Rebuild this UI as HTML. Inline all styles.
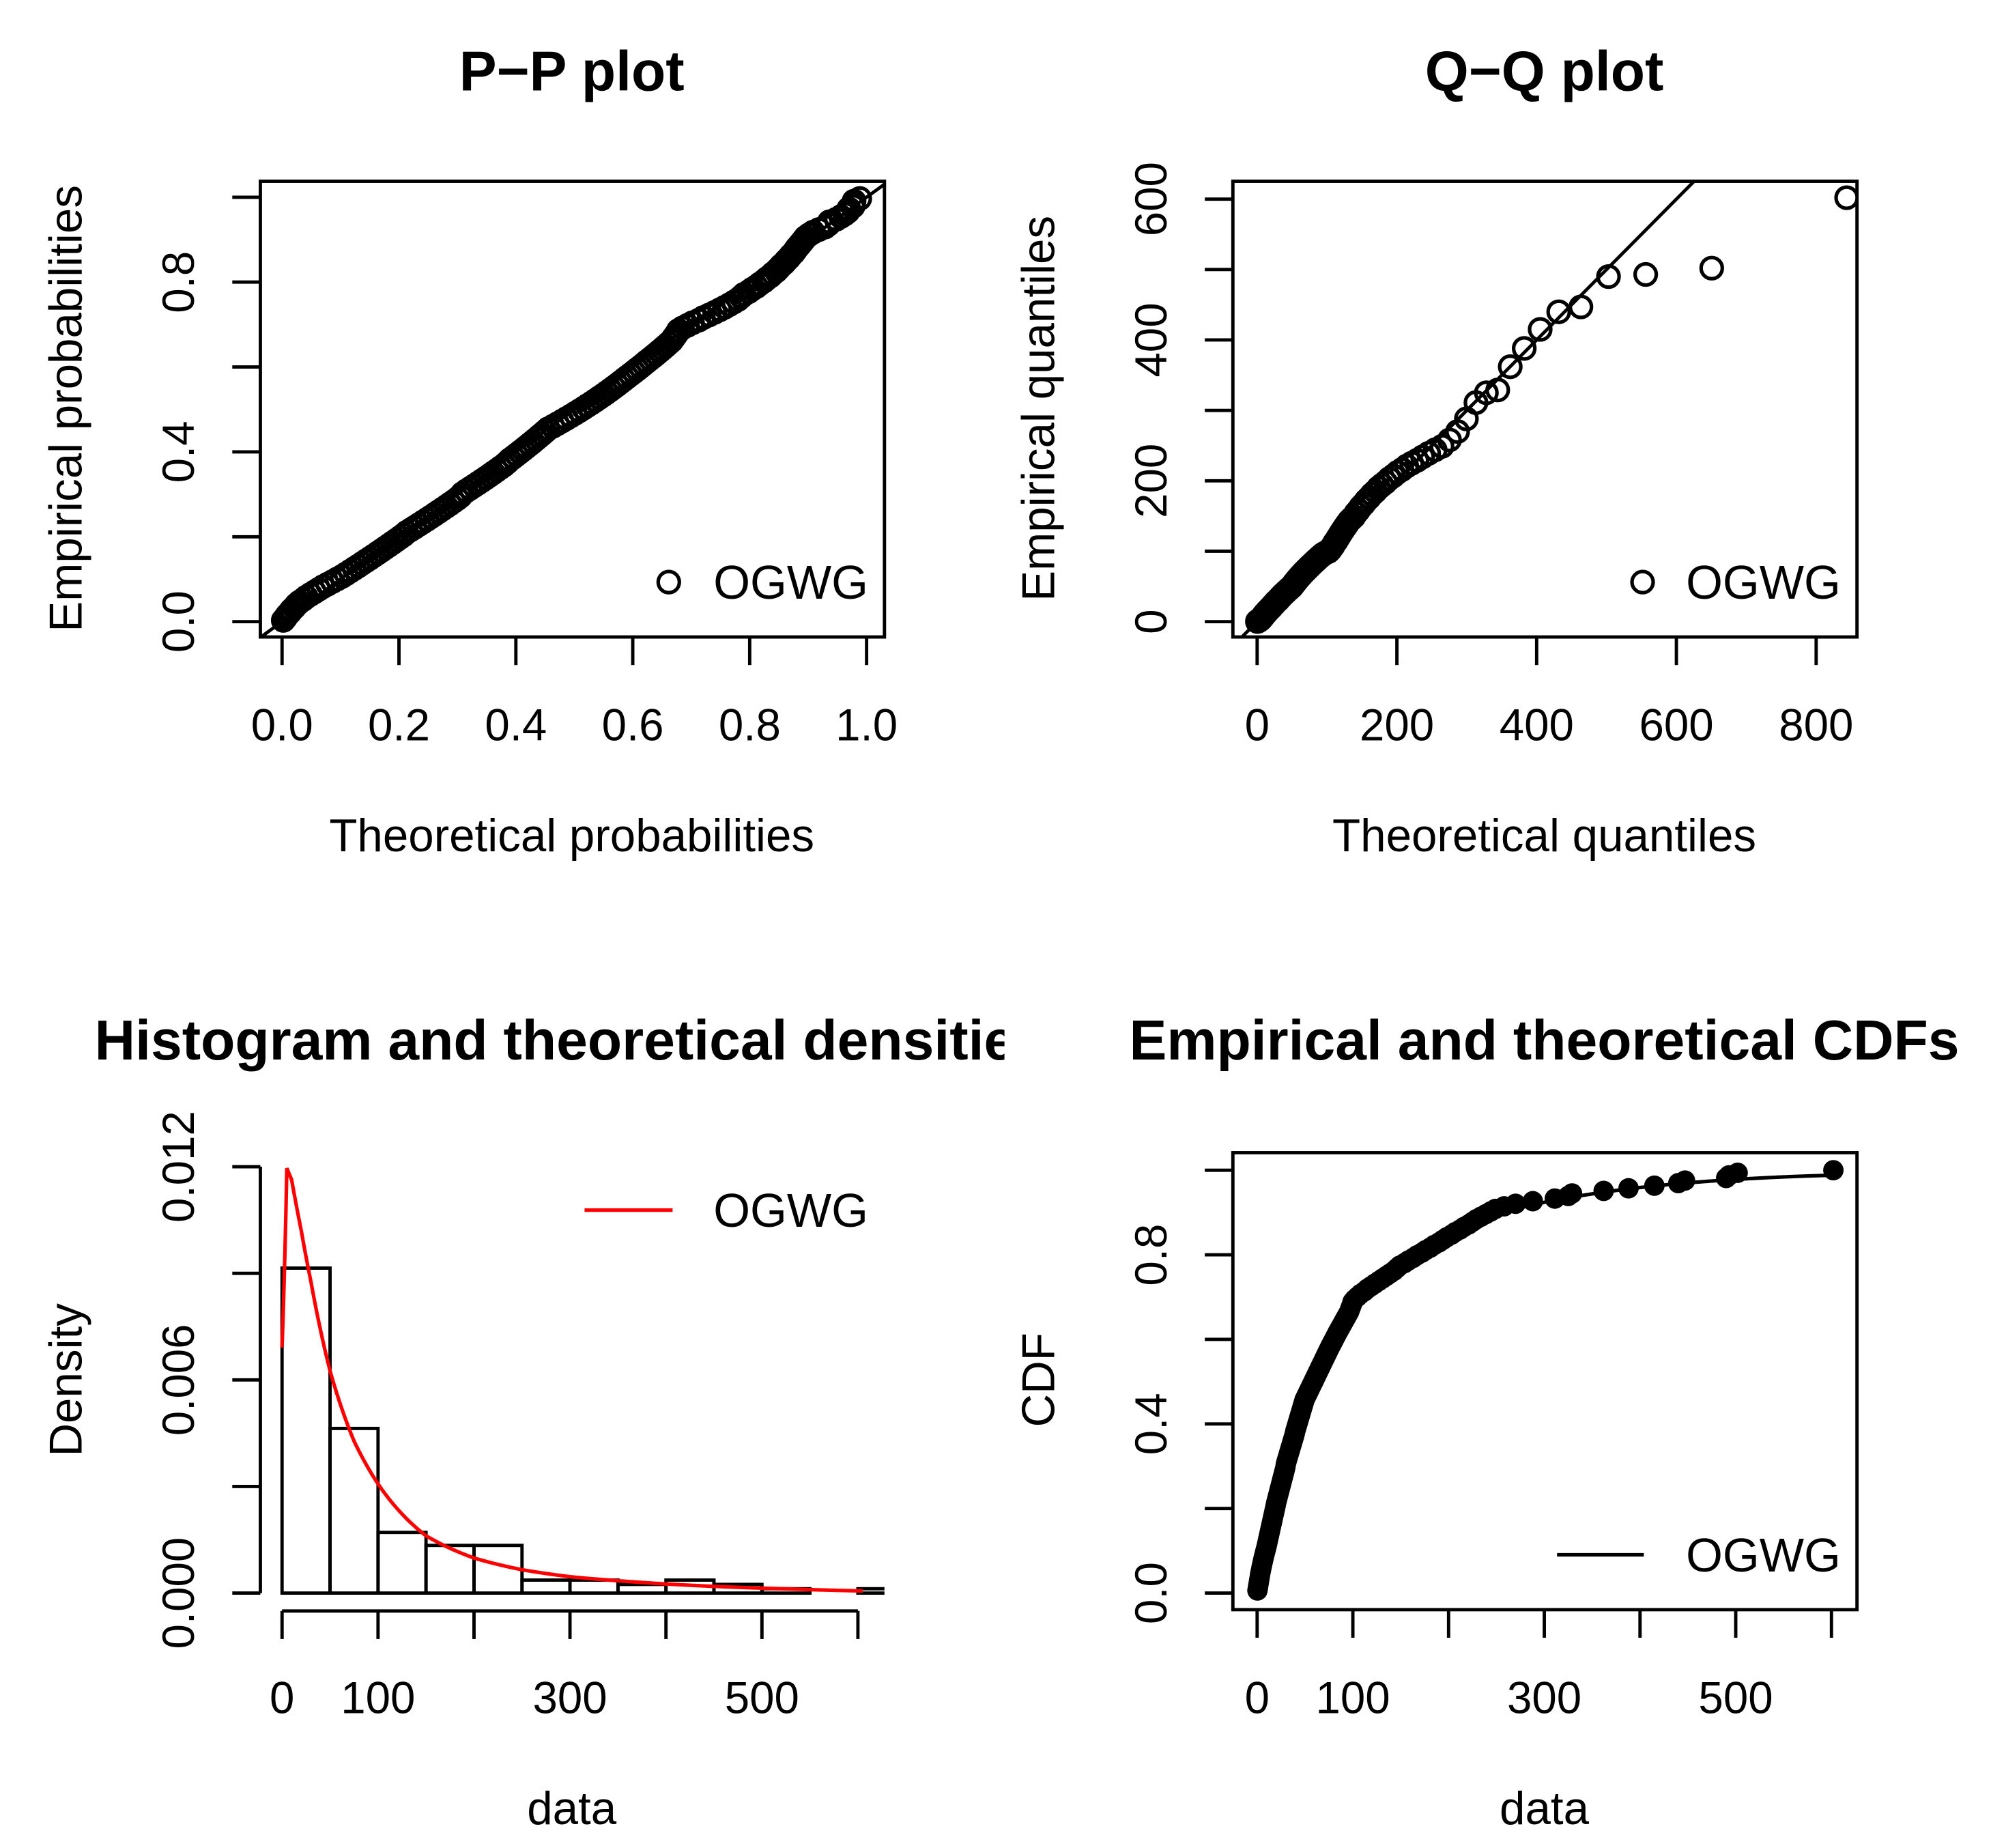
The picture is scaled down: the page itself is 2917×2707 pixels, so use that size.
<!DOCTYPE html>
<html><head><meta charset="utf-8"><style>
html,body{margin:0;padding:0;background:#fff;}
svg{display:block;}
text{font-family:"Liberation Sans",sans-serif;fill:#000;}
</style></head><body>
<svg id="fig" width="2917" height="2707" viewBox="0 0 1560 1447.7" preserveAspectRatio="none" xmlns="http://www.w3.org/2000/svg">
<defs>
<clipPath id="clipPP"><rect x="204" y="142" width="489" height="357"/></clipPath>
<clipPath id="clipQQ"><rect x="966" y="142" width="489" height="357"/></clipPath>
<clipPath id="clipH"><rect x="204" y="900" width="489" height="362"/></clipPath>
<clipPath id="clipC"><rect x="966" y="903" width="489" height="358"/></clipPath>
<clipPath id="clipHT"><rect x="0" y="760" width="787" height="100"/></clipPath>
</defs>
<g id="root"></g>
<g clip-path="url(#clipHT)"><text id="htitle" x="447" y="830" font-size="44" font-weight="bold" text-anchor="middle">Histogram and theoretical densities</text></g>
</svg>
<script>
// ---- data: sorted sample ----
const sampleData = [0.3,0.8,1.2,1.7,2.1,2.6,3.0,3.5,4.1,4.6,5.2,5.8,6.4,7.0,7.7,8.4,9.1,9.8,
10.4,11.0,11.6,12.2,12.8,13.4,14.0,14.6,15.2,15.8,16.4,17.0,17.6,18.2,18.8,19.4,19.9,
20.6,21.3,22.0,22.7,23.4,24.1,24.8,25.5,26.2,26.9,27.6,28.3,29.0,29.6,30.0,
30.7,31.5,32.3,33.1,33.9,34.7,35.5,36.3,37.1,37.9,38.7,39.4,40.0,
40.8,41.6,42.4,43.2,44.0,44.8,45.6,46.4,47.2,48.0,48.8,49.6,
50.9,52.2,53.5,54.8,56.1,57.4,58.7,60.0,61.3,62.6,63.9,65.2,66.5,67.8,69.1,70.4,71.7,73.0,74.3,75.6,77.0,78.4,79.8,81.2,82.6,84.0,85.5,87.0,88.5,90.0,91.5,93.0,94.5,96.0,97.0,98.0,99.0,99.8,
102,105,108,112,115,119,123,127,131,135,139,143,146,149,
154,158,163,167,172,176,181,185,190,194,198,
203,207,212,216,221,225,229,234,239,244,249,
258,270,288,
311,325,329,362,388,415,440,447,490,493,502,602];
// ---- fitted OGWG density knots (x, density) ----
const densX = [0,5,10,20,30,50,75,100,150,200,250,300,365,434,530,612,717,822,1000,2000];
const densY = [0.0063,0.0109,0.0106,0.0093,0.0080,0.0057,0.0039,0.0028,0.00147,0.0009,0.0006,0.00042,0.00029,0.00019,0.000105,0.000052,0.000031,0.000021,0.0000065,0.00000001];
const histBreaks = [0,50,100,150,200,250,300,350,400,450,500,550,600,650];
const ppTicks = [0,0.2,0.4,0.6,0.8,1.0];
const ppTickLabels = ["0.0","0.2","0.4","0.6","0.8","1.0"];
const ppYLabels = ["0.0","","0.4","","0.8",""];
const qqXTicks = [0,200,400,600,800];
const qqYTicks = [0,100,200,300,400,500,600];
const qqYLabels = ["0","","200","","400","","600"];
const histXTicks = [0,100,200,300,400,500,600];
const histXLabels = ["0","100","","300","","500",""];
const histYTicks = [0,0.003,0.006,0.009,0.012];
const histYLabels = ["0.000","","0.006","","0.012"];
const cdfYTicks = [0,0.2,0.4,0.6,0.8,1.0];
const cdfYLabels = ["0.0","","0.4","","0.8",""];

const NS="http://www.w3.org/2000/svg";
const root=document.getElementById('root');
function mk(tag,attrs,parent){const e=document.createElementNS(NS,tag);for(const k in attrs)e.setAttribute(k,attrs[k]);(parent||root).appendChild(e);return e;}
const TS=35, AS=36, LS=37, HS=44, SW=2.6;

function dens(x){
  if(x<=densX[0])return densY[0];
  for(let i=1;i<densX.length;i++){if(x<=densX[i]){const t=(x-densX[i-1])/(densX[i]-densX[i-1]);return Math.exp(Math.log(densY[i-1])*(1-t)+Math.log(densY[i])*t);}}
  return densY[densY.length-1];
}
const cdfGrid=[0];const step=0.5;let acc=0;
for(let x=step;x<=2000;x+=step){acc+=0.5*(dens(x-step)+dens(x))*step;cdfGrid.push(acc);}
const total=acc;
function F(x){if(x<=0)return 0;const i=Math.min(Math.floor(x/step),cdfGrid.length-2);const t=(x-i*step)/step;return (cdfGrid[i]*(1-t)+cdfGrid[i+1]*t)/total;}
function Q(p){let lo=0,hi=2000;for(let k=0;k<60;k++){const m=(lo+hi)/2;if(F(m)<p)lo=m;else hi=m;}return (lo+hi)/2;}
function fDens(x){return dens(x)/total;}

const n=sampleData.length;
const pp=sampleData.map((v,i)=>(i+0.5)/n);

const ppX=v=>221+v*458, ppY=v=>487-v*332.5;
const qqX=v=>985+v*0.5475, qqY=v=>487-v*0.5517;
const hX=v=>221+v*0.752, hY=v=>1248-v*27833;
const cX=v=>985+v*0.75, cY=v=>1248-v*331.25;

function txt(x,y,s,size,opts){const t=mk('text',Object.assign({x:x,y:y,'font-size':size,'text-anchor':'middle'},opts||{}));t.textContent=s;return t;}

// ===== P-P plot =====
let e=txt(448,71,'P\u2212P plot',HS,{'font-weight':'bold'});


e=mk('rect',{x:204,y:142,width:489,height:357,fill:'none',stroke:'#000','stroke-width':SW});


ppTicks.forEach((v,i)=>{
  const t=mk('line',{x1:ppX(v),x2:ppX(v),y1:499,y2:521,stroke:'#000','stroke-width':SW});
  
  
  const l=txt(ppX(v),580,ppTickLabels[i],TS);
  
  
  const ty=mk('line',{x1:182,x2:204,y1:ppY(v),y2:ppY(v),stroke:'#000','stroke-width':SW});
  
  
  if(ppYLabels[i]){const ly=txt(152,ppY(v),ppYLabels[i],TS,{transform:`rotate(-90 152 ${ppY(v)})`});
  
  }
});
e=txt(448,667,'Theoretical probabilities',AS);


e=txt(64,320,'Empirical probabilities',AS,{transform:'rotate(-90 64 320)'});


let cg=mk('g',{'clip-path':'url(#clipPP)'});
e=mk('line',{x1:ppX(-0.1),y1:ppY(-0.1),x2:ppX(1.1),y2:ppY(1.1),stroke:'#000','stroke-width':SW},cg);


sampleData.forEach((v,i)=>{
  const c=mk('circle',{cx:ppX(F(v)),cy:ppY(pp[i]),r:8.3,fill:'none',stroke:'#000','stroke-width':2.8},cg);
  
  
});
e=mk('circle',{cx:524,cy:456,r:8.3,fill:'none',stroke:'#000','stroke-width':2.8});


e=txt(559,469,'OGWG',LS,{'text-anchor':'start'});



// ===== Q-Q plot =====
e=txt(1210,71,'Q\u2212Q plot',HS,{'font-weight':'bold'});


e=mk('rect',{x:966,y:142,width:489,height:357,fill:'none',stroke:'#000','stroke-width':SW});


qqXTicks.forEach(v=>{
  const t=mk('line',{x1:qqX(v),x2:qqX(v),y1:499,y2:521,stroke:'#000','stroke-width':SW});
  
  
  const l=txt(qqX(v),580,String(v),TS);
  
  
});
qqYTicks.forEach((v,i)=>{
  const t=mk('line',{x1:944,x2:966,y1:qqY(v),y2:qqY(v),stroke:'#000','stroke-width':SW});
  
  
  if(qqYLabels[i]){const l=txt(914,qqY(v),qqYLabels[i],TS,{transform:`rotate(-90 914 ${qqY(v)})`});
  
  }
});
e=txt(1210,667,'Theoretical quantiles',AS);


e=txt(826,320,'Empirical quantiles',AS,{transform:'rotate(-90 826 320)'});


cg=mk('g',{'clip-path':'url(#clipQQ)'});
e=mk('line',{x1:qqX(-100),y1:qqY(-100),x2:qqX(1000),y2:qqY(1000),stroke:'#000','stroke-width':SW},cg);


sampleData.forEach((v,i)=>{
  const c=mk('circle',{cx:qqX(Q(pp[i])),cy:qqY(v),r:8.3,fill:'none',stroke:'#000','stroke-width':2.8},cg);
  
  
});
e=mk('circle',{cx:1287,cy:456,r:8.3,fill:'none',stroke:'#000','stroke-width':2.8});


e=txt(1321,469,'OGWG',LS,{'text-anchor':'start'});



// ===== Histogram =====
cg=mk('g',{'clip-path':'url(#clipH)'});
for(let b=0;b<histBreaks.length-1;b++){
  const a=histBreaks[b],z=histBreaks[b+1];
  const cnt=sampleData.filter(v=>(b===0?v>=a:v>a)&&v<=z).length;
  const d=cnt/(n*(z-a));
  const r=mk('rect',{x:hX(a),y:hY(d),width:hX(z)-hX(a),height:hY(0)-hY(d),fill:'none',stroke:'#000','stroke-width':SW},cg);
  
  
}
let pts=[];for(let x=0;x<=605;x+=1)pts.push(hX(x).toFixed(2)+','+hY(fDens(x)).toFixed(2));
e=mk('polyline',{points:pts.join(' '),fill:'none',stroke:'#ff0000','stroke-width':2.8},cg);


e=mk('line',{x1:hX(0),x2:hX(600),y1:1262,y2:1262,stroke:'#000','stroke-width':SW});


histXTicks.forEach((v,i)=>{
  const t=mk('line',{x1:hX(v),x2:hX(v),y1:1262,y2:1284,stroke:'#000','stroke-width':SW});
  
  
  if(histXLabels[i]){const l=txt(hX(v),1342,histXLabels[i],TS);
  
  }
});
e=mk('line',{x1:204,x2:204,y1:hY(0),y2:hY(0.012),stroke:'#000','stroke-width':SW});


histYTicks.forEach((v,i)=>{
  const t=mk('line',{x1:182,x2:204,y1:hY(v),y2:hY(v),stroke:'#000','stroke-width':SW});
  
  
  if(histYLabels[i]){const l=txt(152,hY(v),histYLabels[i],TS,{transform:`rotate(-90 152 ${hY(v)})`});
  
  }
});
e=txt(448,1429,'data',AS);


e=txt(64,1081,'Density',AS,{transform:'rotate(-90 64 1081)'});


e=mk('line',{x1:458,x2:527,y1:948,y2:948,stroke:'#ff0000','stroke-width':2.8});


e=txt(559,961,'OGWG',LS,{'text-anchor':'start'});



// ===== CDF =====
e=txt(1210,830,'Empirical and theoretical CDFs',HS,{'font-weight':'bold'});


e=mk('rect',{x:966,y:903,width:489,height:358,fill:'none',stroke:'#000','stroke-width':SW});


histXTicks.forEach((v,i)=>{
  const t=mk('line',{x1:cX(v),x2:cX(v),y1:1261,y2:1283,stroke:'#000','stroke-width':SW});
  
  
  if(histXLabels[i]){const l=txt(cX(v),1342,histXLabels[i],TS);
  
  }
});
cdfYTicks.forEach((v,i)=>{
  const t=mk('line',{x1:944,x2:966,y1:cY(v),y2:cY(v),stroke:'#000','stroke-width':SW});
  
  
  if(cdfYLabels[i]){const l=txt(914,cY(v),cdfYLabels[i],TS,{transform:`rotate(-90 914 ${cY(v)})`});
  
  }
});
e=txt(1210,1429,'data',AS);


e=txt(826,1081,'CDF',AS,{transform:'rotate(-90 826 1081)'});


cg=mk('g',{'clip-path':'url(#clipC)'});
pts=[];for(let x=0;x<=sampleData[n-1];x+=1)pts.push(cX(x).toFixed(2)+','+cY(F(x)).toFixed(2));
e=mk('polyline',{points:pts.join(' '),fill:'none',stroke:'#000','stroke-width':2.8},cg);


sampleData.forEach((v,i)=>{
  const c=mk('circle',{cx:cX(v),cy:cY((i+1)/n),r:8,fill:'#000'},cg);
  
  
});
e=mk('line',{x1:1220,x2:1288,y1:1218,y2:1218,stroke:'#000','stroke-width':2.8});


e=txt(1321,1231,'OGWG',LS,{'text-anchor':'start'});


</script>
</body></html>
